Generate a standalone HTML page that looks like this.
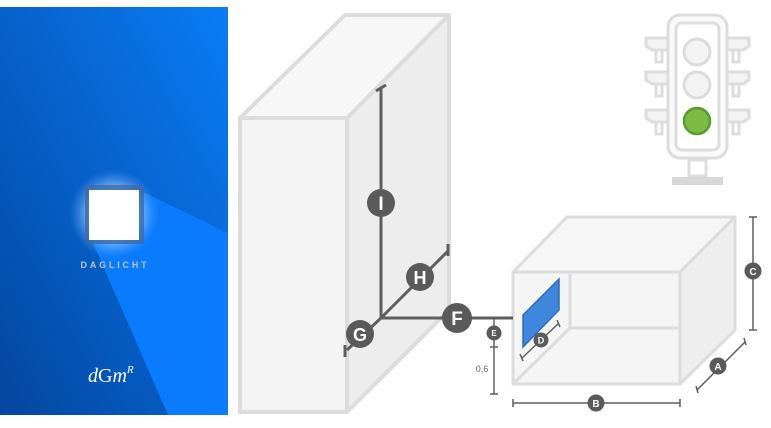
<!DOCTYPE html>
<html><head><style>body{margin:0;background:#fff}svg{display:block}</style></head><body>
<svg width="771" height="428" viewBox="0 0 771 428" xmlns="http://www.w3.org/2000/svg" font-family="Liberation Sans, sans-serif">
<defs>
<linearGradient id="bg" x1="1" y1="0" x2="0" y2="1"><stop offset="0" stop-color="#0a7cf6"/><stop offset="1" stop-color="#03469f"/></linearGradient>
<radialGradient id="glow"><stop offset="0.5" stop-color="#cfe6ff" stop-opacity="0.8"/><stop offset="1" stop-color="#4a9cff" stop-opacity="0"/></radialGradient>
</defs>
<rect x="0" y="7" width="228" height="408" fill="url(#bg)"/>
<polygon points="143,192 228,233 228,415 168,415 93,243" fill="#0a7bfd"/>
<circle cx="114" cy="214" r="45" fill="url(#glow)"/>
<rect x="85" y="185" width="59" height="59" fill="#3a6aa8" opacity="0.8"/>
<rect x="89" y="190" width="50" height="50" fill="#fff"/>
<text x="115" y="268" font-size="9" fill="#b8c4d8" text-anchor="middle" letter-spacing="2.8" font-weight="bold">DAGLICHT</text>
<text x="88" y="382" font-size="20" fill="#fff" font-family="Liberation Serif, serif" font-style="italic">d<tspan font-style="normal">G</tspan>m<tspan font-size="11" dy="-9">R</tspan></text>

<g stroke="#dcdcdc" stroke-width="4" stroke-linejoin="round">
<polygon points="240,118 347,118 449,15 345,15" fill="#f7f7f7"/>
<polygon points="347,118 449,15 449,310 347,412" fill="#ededed"/>
<rect x="240" y="118" width="107" height="294" fill="#f4f4f4"/>
</g>
<g stroke="#dcdcdc" stroke-width="3" stroke-linejoin="round">
<polygon points="513,272 680,272 735,217 567,217" fill="#f6f6f6"/>
<polygon points="680,272 735,217 735,330 680,384" fill="#eeeeee"/>
<rect x="513" y="272" width="167" height="112" fill="#f5f5f5"/>
<polyline points="570,274 570,328 680,328" fill="none"/>
<line x1="570" y1="328" x2="515" y2="382"/>
</g>
<polygon points="523,315 559,279 559,310 523,347" fill="#3f87dc" stroke="#2f6cc0" stroke-width="1.5"/>

<g stroke="#5e5e5e" stroke-width="3" fill="none">
<line x1="381" y1="87" x2="381" y2="318"/><line x1="376" y1="91" x2="386" y2="85"/>
<line x1="381" y1="318" x2="448" y2="251"/><line x1="448" y1="244" x2="448" y2="256"/>
<line x1="381" y1="318" x2="347" y2="350"/><line x1="345" y1="345" x2="345" y2="357"/>
<line x1="381" y1="318" x2="513" y2="318"/>
</g>
<g stroke="#5e5e5e" stroke-width="1.5" fill="none">
<line x1="494" y1="318" x2="494" y2="394"/><line x1="490" y1="318" x2="498" y2="318"/><line x1="490" y1="347" x2="498" y2="347"/><line x1="490" y1="394" x2="498" y2="394"/>
<line x1="522" y1="358" x2="559" y2="323"/><line x1="520" y1="354" x2="523" y2="361"/><line x1="557" y1="320" x2="560" y2="327"/>
<line x1="753" y1="217" x2="753" y2="330"/><line x1="749" y1="217" x2="757" y2="217"/><line x1="749" y1="330" x2="757" y2="330"/>
<line x1="697" y1="390" x2="745" y2="342"/><line x1="696" y1="386" x2="698" y2="393"/><line x1="744" y1="338" x2="746" y2="345"/>
<line x1="513" y1="403" x2="680" y2="403"/><line x1="513" y1="399" x2="513" y2="407"/><line x1="680" y1="399" x2="680" y2="407"/>
</g>
<g fill="#5a5a5a">
<circle cx="381" cy="203" r="14"/><circle cx="420" cy="277" r="14"/><circle cx="360" cy="334" r="14"/><circle cx="457" cy="318" r="15"/>
<circle cx="494" cy="333" r="7.5"/><circle cx="541" cy="340" r="7.5"/><circle cx="753" cy="271" r="8.5"/><circle cx="718" cy="366" r="8.5"/><circle cx="596" cy="403" r="8.5"/>
</g>
<g fill="#fff" font-weight="bold" text-anchor="middle">
<text x="381" y="210" font-size="19">I</text><text x="420" y="284" font-size="18">H</text><text x="360" y="341" font-size="18">G</text><text x="457" y="325" font-size="19">F</text>
<text x="494" y="336" font-size="8">E</text><text x="541" y="343.5" font-size="9">D</text><text x="753" y="275" font-size="10">C</text><text x="718" y="370" font-size="10">A</text><text x="596" y="407" font-size="10">B</text>
</g>
<text x="482" y="372" font-size="9" fill="#666" text-anchor="middle">0,6</text>

<g stroke="#dcdcdc" stroke-width="3" fill="#f3f3f3">
<path d="M668,38 h-22 v8 l6,4 h16 M668,72 h-22 v8 l6,4 h16 M668,110 h-22 v8 l6,4 h16"/>
<path d="M727,38 h22 v8 l-6,4 h-16 M727,72 h22 v8 l-6,4 h-16 M727,110 h22 v8 l-6,4 h-16"/>
<rect x="656" y="50" width="6" height="12" fill="none"/><rect x="656" y="84" width="6" height="12" fill="none"/><rect x="656" y="122" width="6" height="12" fill="none"/>
<rect x="733" y="50" width="6" height="12" fill="none"/><rect x="733" y="84" width="6" height="12" fill="none"/><rect x="733" y="122" width="6" height="12" fill="none"/>
<rect x="668" y="15" width="59" height="143" rx="12" fill="#fafafa"/>
<rect x="676" y="23" width="43" height="127" rx="6" fill="#fff"/>
<rect x="689" y="160" width="17" height="16" fill="#fff"/>
<circle cx="697" cy="52" r="13"/><circle cx="697" cy="85" r="13"/>
</g>
<rect x="672" y="177" width="51" height="8" fill="#d8d8d8"/>
<circle cx="697" cy="121" r="13" fill="#7dbb45" stroke="#5a9a2e" stroke-width="2.5"/>
</svg>
</body></html>
